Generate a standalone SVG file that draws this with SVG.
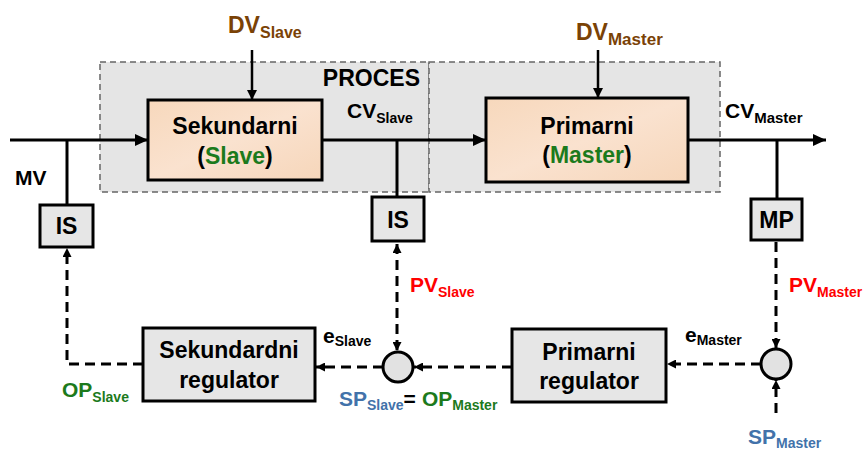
<svg xmlns="http://www.w3.org/2000/svg" width="864" height="452" viewBox="0 0 864 452">
<defs>
<linearGradient id="peach" x1="0" y1="0" x2="1" y2="1">
<stop offset="0" stop-color="#F7D8BC"/>
<stop offset="0.5" stop-color="#FAE2CF"/>
<stop offset="1" stop-color="#F6D6BA"/>
</linearGradient>
<marker id="ah" markerUnits="userSpaceOnUse" markerWidth="13" markerHeight="12" refX="13" refY="6" orient="auto">
<path d="M0,0 L13,6 L0,12 z" fill="#000"/>
</marker>
<marker id="ahs" markerUnits="userSpaceOnUse" markerWidth="10" markerHeight="10" refX="10" refY="5" orient="auto">
<path d="M0,0 L10,5 L0,10 z" fill="#000"/>
</marker>
<marker id="ahd" markerUnits="userSpaceOnUse" markerWidth="9" markerHeight="9" refX="9" refY="4.5" orient="auto-start-reverse">
<path d="M0,0 L9,4.5 L0,9 z" fill="#000"/>
</marker>
</defs>
<style>
text{font-family:"Liberation Sans",Arial,sans-serif;font-weight:bold;}
.proc{fill:#E5E5E5;stroke:#666;stroke-width:1.5;stroke-dasharray:6 4;}
.plant{fill:url(#peach);stroke:#000;stroke-width:3;}
.blk{fill:#E6E6E6;stroke:#000;stroke-width:3;}
.sum{fill:#E2E2E2;stroke:#000;stroke-width:3;}
.main{fill:none;stroke:#000;stroke-width:3;}
.dash{fill:none;stroke:#000;stroke-width:3;stroke-dasharray:10 6;}
.thin{fill:none;stroke:#000;stroke-width:2.5;}
.c{text-anchor:middle;}
.big{font-size:23px;}
.lab{font-size:21px;}
.sub{font-size:14px;}
.brown{fill:#7A4206;}
.green{fill:#1C7A1C;}
.red{fill:#FF0000;}
.blue{fill:#4272AA;}
</style>

<g id="process-area">
<rect class="proc" x="100" y="62" width="329" height="130"/>
<rect class="proc" x="429" y="62" width="291" height="130"/>
<text x="420" y="86" class="big" text-anchor="end" font-size="24">PROCES</text>
</g>

<g id="connectors">
<line class="main" x1="10" y1="140" x2="148" y2="140" marker-end="url(#ah)"/>
<line class="main" x1="67" y1="140" x2="67" y2="205"/>
<line class="main" x1="322" y1="140" x2="486" y2="140" marker-end="url(#ah)"/>
<line class="main" x1="397" y1="140" x2="397" y2="197"/>
<line class="main" x1="688" y1="140" x2="826" y2="140" marker-end="url(#ah)"/>
<line class="main" x1="777" y1="140" x2="777" y2="199"/>
<line class="thin" x1="252" y1="50" x2="252" y2="100" marker-end="url(#ahs)"/>
<line class="thin" x1="598" y1="50" x2="598" y2="98" marker-end="url(#ahs)"/>
<line class="dash" x1="397" y1="244" x2="397" y2="351" marker-start="url(#ahd)" marker-end="url(#ahd)"/>
<line class="dash" x1="383" y1="367" x2="316" y2="367" marker-end="url(#ahd)"/>
<polyline class="dash" points="143,364 67,364 67,248" marker-end="url(#ahd)"/>
<line class="dash" x1="512" y1="367" x2="414" y2="367" marker-end="url(#ahd)"/>
<line class="dash" x1="761" y1="364" x2="667" y2="364" marker-end="url(#ahd)"/>
<line class="dash" x1="776" y1="242" x2="776" y2="348" marker-end="url(#ahd)"/>
<line class="dash" x1="776" y1="413" x2="776" y2="380" marker-end="url(#ahd)"/>
</g>

<g id="sekundarni-slave">
<rect class="plant" x="148" y="100" width="174" height="80"/>
<text x="235" y="134" class="c big">Sekundarni</text>
<text x="235" y="164" class="c big">(<tspan class="green">Slave</tspan>)</text>
</g>

<g id="primarni-master">
<rect class="plant" x="486" y="98" width="202" height="84"/>
<text x="587" y="134" class="c big">Primarni</text>
<text x="587" y="163" class="c big">(<tspan class="green">Master</tspan>)</text>
</g>

<g id="is-left">
<rect class="blk" x="40" y="205" width="53" height="42"/>
<text x="66.5" y="234" class="c big">IS</text>
</g>

<g id="is-right">
<rect class="blk" x="372" y="197" width="52" height="44"/>
<text x="398" y="228" class="c big">IS</text>
</g>

<g id="mp">
<rect class="blk" x="751" y="199" width="51" height="41"/>
<text x="776.5" y="228" class="c big">MP</text>
</g>

<g id="sekundardni-regulator">
<rect class="blk" x="143" y="328" width="172" height="73"/>
<text x="229" y="358" class="c big">Sekundardni</text>
<text x="229" y="388" class="c big">regulator</text>
</g>

<g id="primarni-regulator">
<rect class="blk" x="512" y="329" width="154" height="73"/>
<text x="589" y="360" class="c big">Primarni</text>
<text x="589" y="389" class="c big">regulator</text>
</g>

<g id="sum-slave">
<circle class="sum" cx="398" cy="367" r="15"/>
</g>

<g id="sum-master">
<circle class="sum" cx="776" cy="364" r="15"/>
</g>

<g id="labels">
<text x="228" y="33" font-size="23" class="brown">DV<tspan font-size="16" dy="5">Slave</tspan></text>
<text x="576" y="40" font-size="23" class="brown">DV<tspan font-size="17" dy="5">Master</tspan></text>
<text x="347" y="118" class="lab">CV<tspan class="sub" dy="5">Slave</tspan></text>
<text x="725" y="118" class="lab">CV<tspan font-size="15" dy="5">Master</tspan></text>
<text x="15" y="185" class="lab">MV</text>
<text x="410" y="292" class="lab red">PV<tspan class="sub" dy="5">Slave</tspan></text>
<text x="789" y="292" class="lab red">PV<tspan class="sub" dy="5">Master</tspan></text>
<text x="323" y="343" class="lab">e<tspan class="sub" dy="3">Slave</tspan></text>
<text x="685" y="342" class="lab">e<tspan class="sub" dy="3">Master</tspan></text>
<text x="62" y="397" class="lab green">OP<tspan class="sub" dy="5">Slave</tspan></text>
<text x="339" y="406" class="lab blue">SP<tspan class="sub" dy="4">Slave</tspan><tspan fill="#000" dy="-4">=</tspan><tspan class="green" dx="6">OP</tspan><tspan class="sub green" dy="4">Master</tspan></text>
<text x="748" y="444" class="lab blue">SP<tspan class="sub" dy="4">Master</tspan></text>
</g>
</svg>
